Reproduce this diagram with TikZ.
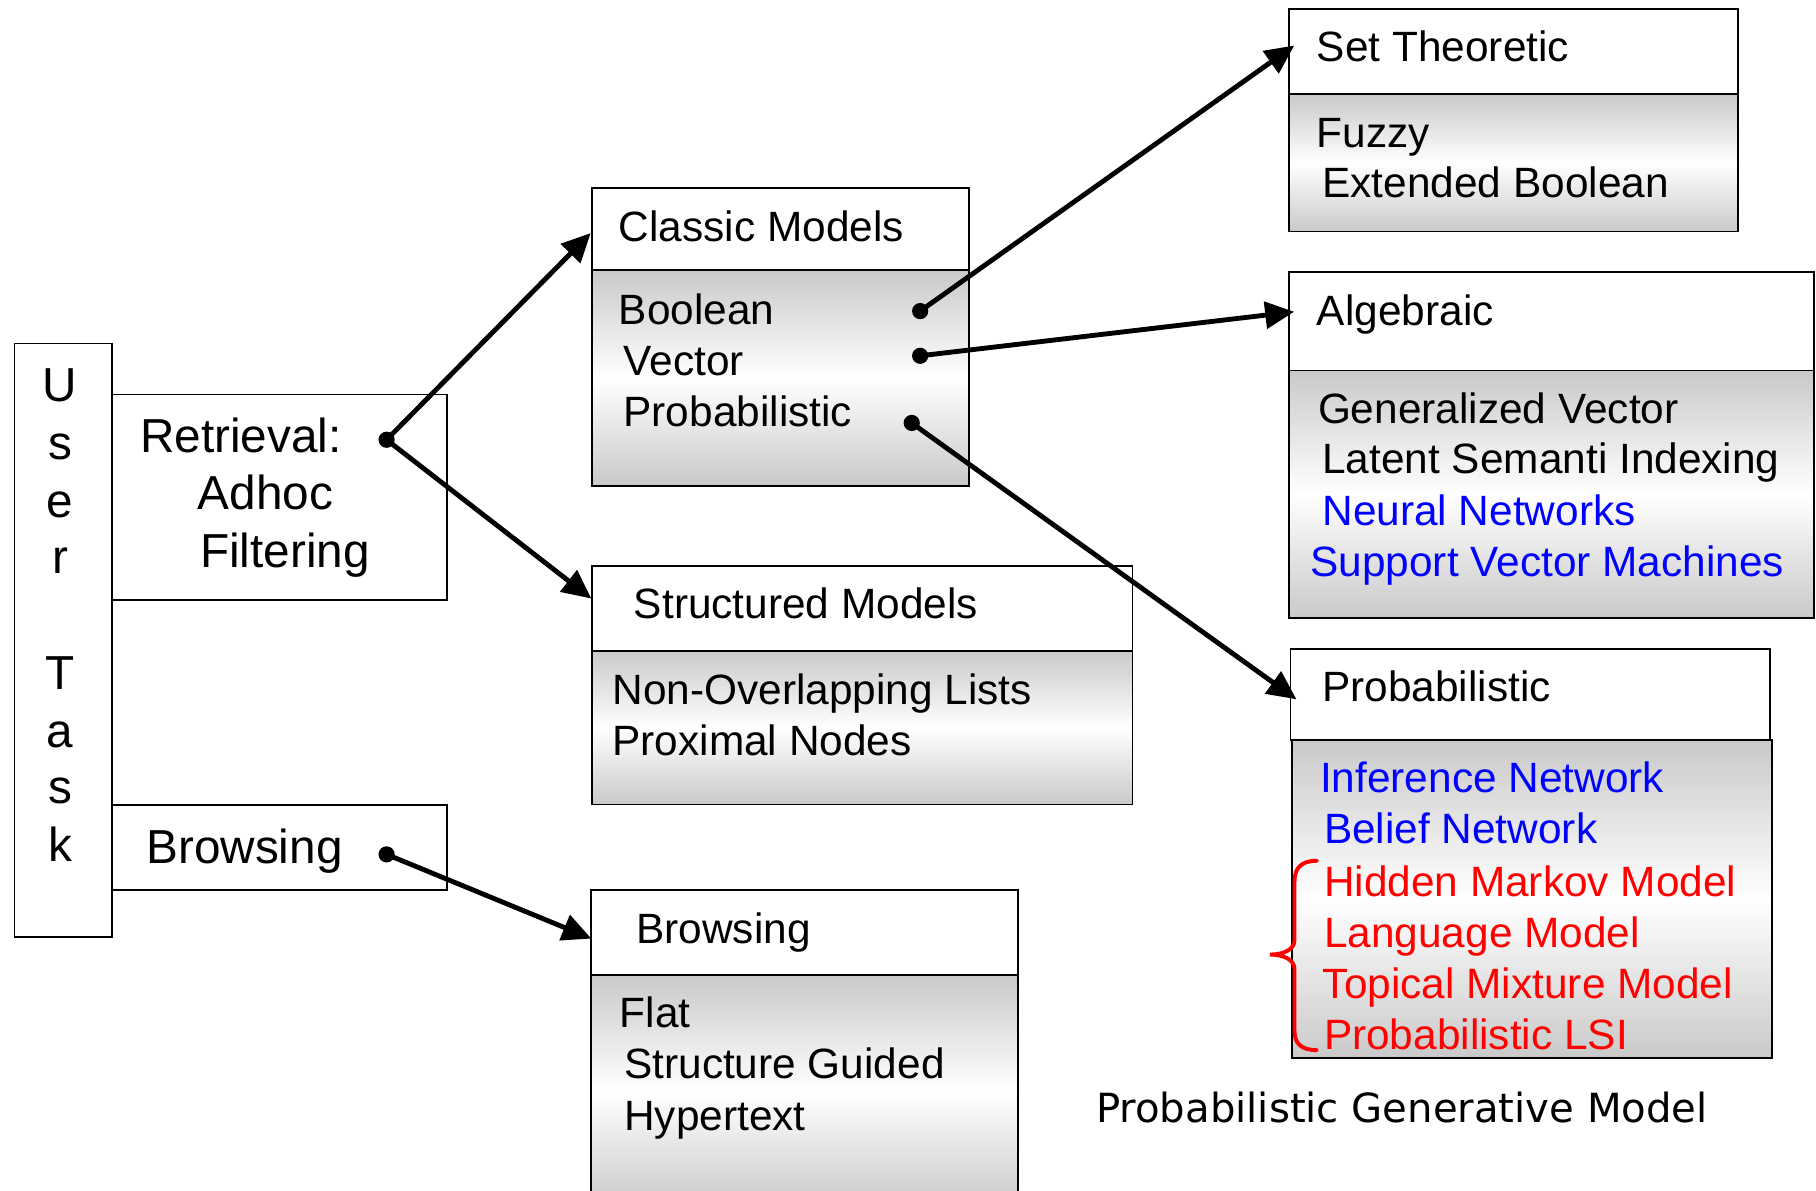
\documentclass[tikz,border=0pt]{standalone}
\usepackage{fontspec}
\setmainfont{Liberation Sans}
\newfontfamily\capfont{DejaVu Sans}
\usetikzlibrary{arrows.meta}
\begin{document}
\begin{tikzpicture}[x=0.5pt,y=-0.5pt,
  hdr/.style={draw=black, line width=0.75pt, fill=white, anchor=north west, inner sep=0pt, outer sep=0pt},
  bodybox/.style={draw=black, line width=0.75pt, top color=gray!42, bottom color=gray!42, middle color=white, anchor=north west, inner sep=0pt, outer sep=0pt},
  txt/.style={anchor=base west, inner sep=0pt, font=\fontsize{18.3pt}{22pt}\selectfont},
  bigtxt/.style={anchor=base west, inner sep=0pt, font=\fontsize{20.6pt}{25pt}\selectfont},
  link/.style={line width=2.1pt, -{Triangle[length=12.5pt,width=11.5pt]}},
  dotmark/.style={fill=black}
]
\useasboundingbox[fill=white] (0,0) rectangle (1568,1027.5);

% ---- left column
\node[hdr, minimum width=42.15pt, minimum height=256.35pt] (usertask) at (12.5,296.6) {};
\node[hdr, minimum width=144.6pt, minimum height=88.8pt] (retrieval) at (96.8,340.7) {};
\node[hdr, minimum width=144.6pt, minimum height=36.7pt] (browseL) at (96.8,695.2) {};
\foreach \l/\b [count=\i] in {U/346.8, s/396.9, e/447.1, r/495.4, T/595.6, a/645, s/694, k/744.2}
  \node[bigtxt, anchor=base] (ut\i) at (52,\b) {\l};
\node[bigtxt] (tRetr) at (120.5,391) {Retrieval:};
\node[bigtxt] (tAdhoc) at (170.5,440) {Adhoc};
\node[bigtxt] (tFilt) at (172.5,490) {Filtering};
\node[bigtxt] (tBrowL) at (126,745.3) {Browsing};

% ---- classic models
\node[bodybox, minimum width=162.6pt, minimum height=93.1pt] (classB) at (511.3,233.4) {};
\node[hdr, minimum width=162.6pt, minimum height=35.6pt] (classH) at (511.3,162.2) {};
\node[txt] (tClass) at (534,208.4) {Classic Models};
\node[txt] (tBool) at (534,280) {Boolean};
\node[txt] (tVec) at (538,324) {Vector};
\node[txt] (tProbC) at (538,368) {Probabilistic};

% ---- structured models
\node[bodybox, minimum width=233.3pt, minimum height=66.25pt] (structB) at (511.3,562.1) {};
\node[hdr, minimum width=233.3pt, minimum height=36.7pt] (structH) at (511.3,488.7) {};
\node[txt] (tStruct) at (547,534.2) {Structured Models};
\node[txt] (tNonOv) at (528.5,608.6) {Non-Overlapping Lists};
\node[txt] (tProx) at (528.5,652) {Proximal Nodes};

% ---- browsing (right)
\node[bodybox, minimum width=184.1pt, minimum height=100pt] (browseB) at (510.6,842) {};
\node[hdr, minimum width=184.1pt, minimum height=36.7pt] (browseH) at (510.6,768.6) {};
\node[txt] (tBrowR) at (549,814.6) {Browsing};
\node[txt] (tFlat) at (534.8,887.2) {Flat};
\node[txt] (tSG) at (538.6,931.2) {Structure Guided};
\node[txt] (tHyp) at (538.6,976.4) {Hypertext};

% ---- set theoretic
\node[bodybox, minimum width=193.9pt, minimum height=59.25pt] (setB) at (1113.1,81.3) {};
\node[hdr, minimum width=193.9pt, minimum height=36.9pt] (setH) at (1113.1,7.5) {};
\node[txt] (tSet) at (1136.7,52.9) {Set Theoretic};
\node[txt] (tFuzzy) at (1136.7,127) {Fuzzy};
\node[txt] (tExtB) at (1141.4,170.7) {Extended Boolean};

% ---- algebraic
\node[bodybox, minimum width=226.65pt, minimum height=106.65pt] (algB) at (1113.1,320) {};
\node[hdr, minimum width=226.65pt, minimum height=42.55pt] (algH) at (1113.1,234.9) {};
\node[txt] (tAlg) at (1136.7,280.7) {Algebraic};
\node[txt] (tGV) at (1137.6,365.4) {Generalized Vector};
\node[txt] (tLSI) at (1141.4,409.1) {Latent Semanti Indexing};
\node[txt, text=blue] (tNN) at (1141.4,454.1) {Neural Networks};
\node[txt, text=blue] (tSVM) at (1131,497.8) {Support Vector Machines};

% ---- probabilistic
\node[bodybox, minimum width=207.35pt, minimum height=137.3pt] (probB) at (1115.3,639) {};
\node[hdr, minimum width=206.95pt, minimum height=39.25pt] (probH) at (1114.3,560.5) {};
\node[txt] (tProb) at (1141.2,606) {Probabilistic};
\node[txt, text=blue] (tInf) at (1139.4,684.5) {Inference Network};
\node[txt, text=blue] (tBel) at (1142.8,728.5) {Belief Network};
\node[txt, text=red] (tHMM) at (1142.8,774) {Hidden Markov Model};
\node[txt, text=red] (tLM) at (1142.8,818) {Language Model};
\node[txt, text=red] (tTMM) at (1141.9,862) {Topical Mixture Model};
\node[txt, text=red] (tPLSI) at (1142.8,906) {Probabilistic LSI};

% ---- red brace
\draw[red, line width=1.7pt, line cap=round]
  (1137,743.2) .. controls (1123,743.2) and (1117.7,750) .. (1117.7,761.4)
  -- (1117.7,811.7) .. controls (1117.7,820) and (1108,824.2) .. (1096.6,824.2)
  .. controls (1108,824.2) and (1117.7,828.5) .. (1117.7,836.8)
  -- (1117.7,890.2) .. controls (1117.7,900.5) and (1123,906.7) .. (1137,906.7);

% ---- caption
\node[anchor=base west, inner sep=0pt, font=\capfont\fontsize{17.35pt}{20pt}\selectfont] (caption) at (946,969) {Probabilistic Generative Model};

% ---- connector end points
\coordinate (dRetr) at (333.8,379.7);
\coordinate (dBrow) at (333.8,737.7);
\coordinate (dBool) at (794.5,268.6);
\coordinate (dVec) at (794.5,307.2);
\coordinate (dProb) at (787.2,365.2);
\coordinate (aClass) at (510.1,201.2);
\coordinate (aStruct) at (510.6,516.8);
\coordinate (aBrow) at (510.6,810.4);
\coordinate (aSet) at (1117.5,39.3);
\coordinate (aAlg) at (1117.4,269.2);
\coordinate (aProb) at (1119.4,603.8);

\draw[link] (dRetr) -- (aClass);
\draw[link] (dRetr) -- (aStruct);
\draw[link] (dBrow) -- (aBrow);
\draw[link] (dBool) -- (aSet);
\draw[link] (dVec) -- (aAlg);
\draw[link] (dProb) -- (aProb);
\foreach \d in {dRetr,dBrow,dBool,dVec,dProb}
  \fill[dotmark] (\d) circle[radius=3.5pt];
\end{tikzpicture}
\end{document}
